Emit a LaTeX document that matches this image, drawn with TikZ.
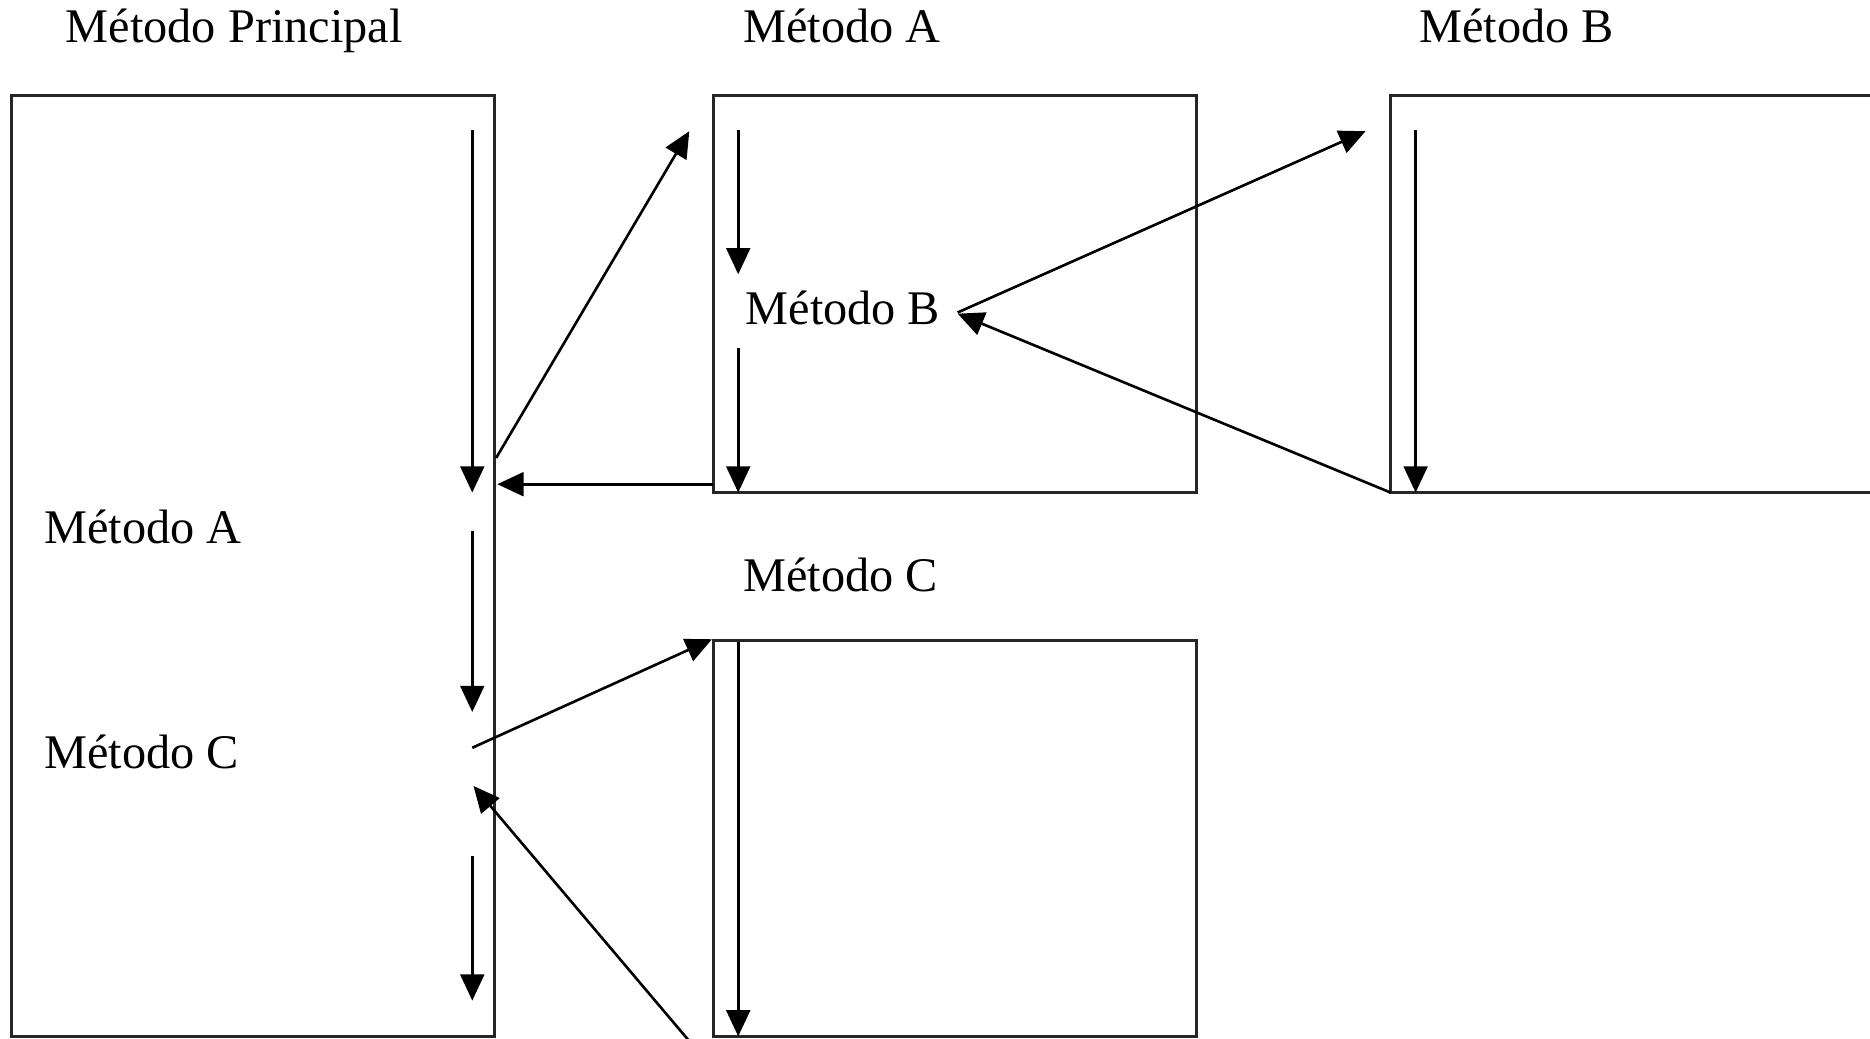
\documentclass[tikz,border=0pt]{standalone}
\usepackage{fontspec}
\setmainfont{Liberation Serif}
\usetikzlibrary{arrows.meta}
\begin{document}
\begin{tikzpicture}[x=1pt,y=-1pt,
  frame/.style={draw=black!85, line width=2.5pt, inner sep=0pt, outer sep=0pt, anchor=north west},
  flow/.style={draw=black, line width=2.2pt, -{Triangle[length=22pt,width=20pt]}},
  lbl/.style={anchor=base west, inner sep=0pt, font=\fontsize{40.5}{48}\selectfont}]
\useasboundingbox (0,0) rectangle (1568,871);
\fill[white] (0,0) rectangle (1568,871);
\clip (0,0) rectangle (1568,871);

% method frames
\node[frame, minimum width=405pt, minimum height=789pt] (main) at (10,80) {};
\node[frame, minimum width=405pt, minimum height=333pt] (boxA) at (598,80) {};
\node[frame, minimum width=500pt, minimum height=333pt] (boxB) at (1166,80) {};
\node[frame, minimum width=405pt, minimum height=332pt] (boxC) at (598,537) {};

% titles
\node[lbl] (tMain) at (55,36) {Método Principal};
\node[lbl] (tA) at (623,36) {Método A};
\node[lbl] (tB) at (1190,36) {Método B};
\node[lbl] (tC) at (623,496) {Método C};

% calls written inside the frames
\node[lbl] (callA) at (37,456) {Método A};
\node[lbl] (callC) at (37,644) {Método C};
\node[lbl] (callB) at (625,272) {Método B};

% end points of the flow arrows
\coordinate (m1s) at (396,109);  \coordinate (m1e) at (396,413);
\coordinate (m2s) at (396,445);  \coordinate (m2e) at (396,597);
\coordinate (m3s) at (396,718);  \coordinate (m3e) at (396,839);
\coordinate (cA0) at (416,384);  \coordinate (cA1) at (578,110);
\coordinate (rA1) at (417,406);
\coordinate (cC0) at (396,627);  \coordinate (cC1) at (597,536);
\coordinate (rC0) at (578,873);  \coordinate (rC1) at (397,659);
\coordinate (a1s) at (619,109);  \coordinate (a1e) at (619,230);
\coordinate (a2s) at (619,292);  \coordinate (a2e) at (619,413);
\coordinate (cB0) at (803,262);  \coordinate (cB1) at (1145,110);
\coordinate (rB1) at (803,263);
\coordinate (b1s) at (1187,109); \coordinate (b1e) at (1187,413);
\coordinate (c1s) at (619,538);  \coordinate (c1e) at (619,869);

% main method
\draw[flow] (m1s) -- (m1e);
\draw[flow] (m2s) -- (m2e);
\draw[flow] (m3s) -- (m3e);
\draw[flow] (cA0) -- (cA1);
\draw[flow] (boxA.south west |- rA1) -- (rA1);
\draw[flow] (cC0) -- (cC1);
\draw[flow] (rC0) -- (rC1);

% method A
\draw[flow] (a1s) -- (a1e);
\draw[flow] (a2s) -- (a2e);
\draw[flow] (cB0) -- (cB1);
\draw[flow] (boxB.south west) -- (rB1);

% method B
\draw[flow] (b1s) -- (b1e);

% method C
\draw[flow] (c1s) -- (c1e);
\end{tikzpicture}
\end{document}
